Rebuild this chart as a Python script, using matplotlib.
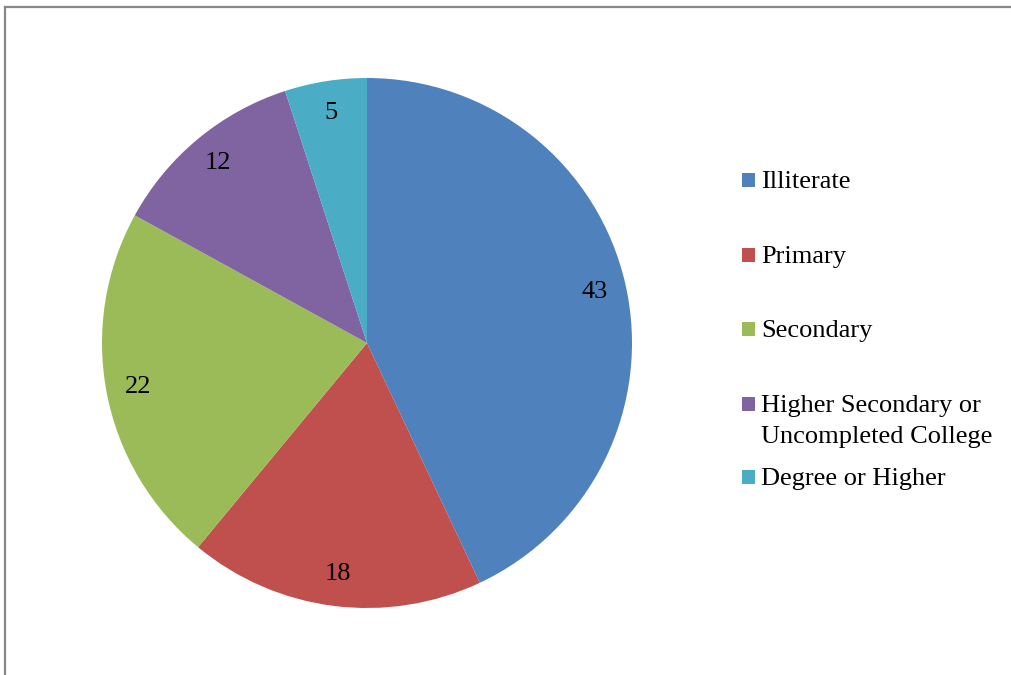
import matplotlib
matplotlib.use("Agg")
import matplotlib.pyplot as plt
from matplotlib.patches import Rectangle
from matplotlib.lines import Line2D

# data
categories = ["Illiterate", "Primary", "Secondary",
              "Higher Secondary or\nUncompleted College", "Degree or Higher"]
values = [43, 18, 22, 12, 5]
colors = ["#4f81bd", "#c0504d", "#9bbb59", "#8064a2", "#4bacc6"]

plt.rcParams["font.family"] = ["Liberation Serif", "DejaVu Serif"]

W, H = 1011, 675
fig = plt.figure(figsize=(W / 100, H / 100), dpi=100)
fig.patch.set_facecolor("white")

# pie area: center (367, 343) px, radius 265 px
cx, cy, r = 367, 343, 265
ax = fig.add_axes([(cx - r) / W, (H - cy - r) / H, 2 * r / W, 2 * r / H])
wedges, texts, autotexts = ax.pie(
    values, colors=colors, startangle=90, counterclock=False,
    radius=1, autopct=lambda p: f"{p:.0f}", pctdistance=0.88,
    wedgeprops=dict(linewidth=0),
    textprops=dict(fontsize=19, color="black"),
)
ax.set_xlim(-1, 1)
ax.set_ylim(-1, 1)
ax.set_aspect("auto")
ax.axis("off")

# legend, drawn by hand to match the uneven row spacing
baselines = [188, 263, 337, 412, 485]
line_gap = 31
for lab, col, yb in zip(categories, colors, baselines):
    fig.patches.append(Rectangle((742 / W, (H - yb + 1) / H), 13 / W, 14 / H,
                                 transform=fig.transFigure, facecolor=col,
                                 edgecolor="none"))
    for k, part in enumerate(lab.split("\n")):
        fig.text(761 / W, (H - yb - k * line_gap) / H, part, fontsize=19,
                 va="baseline", ha="left")

# frame: top and left edges only
fig.lines.append(Line2D([5 / W, 1], [1 - 7 / H, 1 - 7 / H],
                        transform=fig.transFigure, color="#888888", linewidth=1.6))
fig.lines.append(Line2D([5 / W, 5 / W], [0, 1 - 7 / H],
                        transform=fig.transFigure, color="#888888", linewidth=1.6))

fig.savefig("out.png", dpi=100)
